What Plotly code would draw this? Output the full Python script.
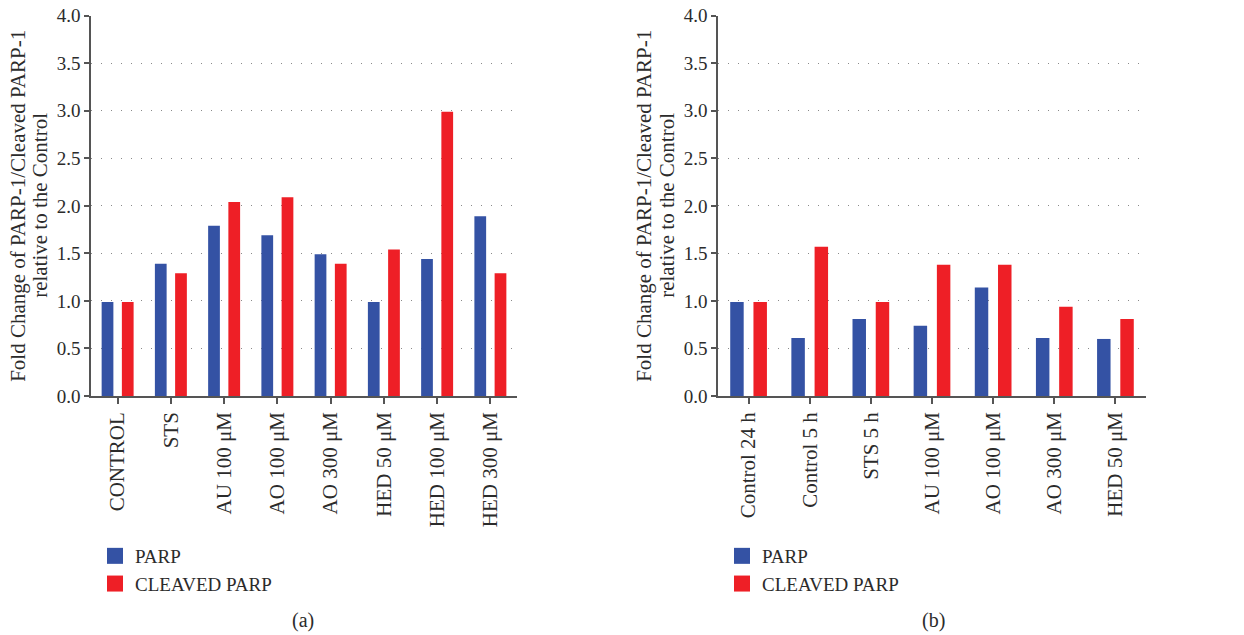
import plotly.graph_objects as go

# Panel (a): 24 h treatments
cats_a = ["CONTROL", "STS", "AU 100 μM", "AO 100 μM", "AO 300 μM",
          "HED 50 μM", "HED 100 μM", "HED 300 μM"]
parp_a = [0.99, 1.39, 1.79, 1.69, 1.49, 0.99, 1.44, 1.89]
cleaved_a = [0.99, 1.29, 2.04, 2.09, 1.39, 1.54, 2.99, 1.29]

# Panel (b): 5 h treatments
cats_b = ["Control 24 h", "Control 5 h", "STS 5 h", "AU 100 μM",
          "AO 100 μM", "AO 300 μM", "HED 50 μM"]
parp_b = [0.99, 0.61, 0.81, 0.74, 1.14, 0.61, 0.60]
cleaved_b = [0.99, 1.57, 0.99, 1.38, 1.38, 0.94, 0.81]

y_ticks = [0.0, 0.5, 1.0, 1.5, 2.0, 2.5, 3.0, 3.5, 4.0]
series_names = ["PARP", "CLEAVED PARP"]

BLUE = "#3452a4"
RED = "#ee1f26"
TEXT = "#2b2b2b"
AXIS = "#555555"
FONT = "Liberation Serif, Times New Roman, serif"
W, H = 1244, 635

fig = go.Figure()

panels = [
    ("x", "y", cats_a, parp_a, cleaved_a, "legend"),
    ("x2", "y2", cats_b, parp_b, cleaved_b, "legend2"),
]
for xa, ya, cats, p, c, leg in panels:
    for vals, color in ((p, BLUE), (c, RED)):
        fig.add_trace(go.Bar(
            x=cats, y=vals, xaxis=xa, yaxis=ya,
            marker=dict(color=color, line=dict(width=0)),
            showlegend=False, hoverinfo="x+y",
        ))
    # legend swatches (square markers, no data)
    for name, color in zip(series_names, (BLUE, RED)):
        fig.add_trace(go.Scatter(
            x=[None], y=[None], xaxis=xa, yaxis=ya, mode="markers",
            name=name, legend=leg,
            marker=dict(symbol="square", size=16, color=color),
        ))

xdom_a = [91 / W, 517 / W]
xdom_b = [718 / W, 1146 / W]
ydom = [(H - 396) / H, (H - 15.7) / H]

xcommon = dict(
    showline=True, linecolor=AXIS, linewidth=1.5,
    ticks="outside", ticklen=6, tickcolor=AXIS, tickwidth=1.5,
    tickangle=-90, showgrid=False, zeroline=False, automargin=False,
    tickfont=dict(family=FONT, size=21, color=TEXT),
)
ycommon = dict(
    range=[0, 4.0], tickvals=y_ticks, tickformat=".1f",
    showline=True, linecolor=AXIS, linewidth=1.5,
    ticks="outside", ticklen=5, tickcolor=AXIS, tickwidth=1.5,
    showgrid=True, gridcolor="#8a8a8a", gridwidth=1.2, griddash="1px,9px",
    zeroline=False, automargin=False,
    tickfont=dict(family=FONT, size=19, color=TEXT),
)

legend_style = dict(
    xanchor="left", yanchor="top", y=(H - 537) / H,
    font=dict(family=FONT, size=19, color=TEXT),
    itemsizing="trace", bgcolor="rgba(0,0,0,0)", tracegroupgap=0,
)

fig.update_layout(
    template="none",
    width=W, height=H,
    margin=dict(l=0, r=0, t=0, b=0, pad=0, autoexpand=False),
    paper_bgcolor="white", plot_bgcolor="white",
    barmode="group", bargap=0.24, bargroupgap=0.42,
    xaxis=dict(domain=xdom_a, anchor="y", **xcommon),
    yaxis=dict(domain=ydom, anchor="x", **ycommon),
    xaxis2=dict(domain=xdom_b, anchor="y2", **xcommon),
    yaxis2=dict(domain=ydom, anchor="x2", **ycommon),
    legend=dict(x=95 / W, **legend_style),
    legend2=dict(x=722 / W, **legend_style),
    showlegend=True,
)

# y-axis titles (two lines each) and panel captions
ytitle = ["Fold Change of PARP-1/Cleaved PARP-1", "relative to the Control"]
ymid = (ydom[0] + ydom[1]) / 2
for x1, x2 in ((18, 40), (644, 667)):
    for txt, xp in zip(ytitle, (x1, x2)):
        fig.add_annotation(
            text=txt, textangle=-90, x=xp / W, y=ymid,
            xref="paper", yref="paper", xanchor="center", yanchor="middle",
            showarrow=False, font=dict(family=FONT, size=21, color=TEXT),
        )
for txt, xp in (("(a)", 303), ("(b)", 933)):
    fig.add_annotation(
        text=txt, x=xp / W, y=(H - 620) / H, xref="paper", yref="paper",
        xanchor="center", yanchor="middle", showarrow=False,
        font=dict(family=FONT, size=20, color=TEXT),
    )

fig.write_html("out.html")
